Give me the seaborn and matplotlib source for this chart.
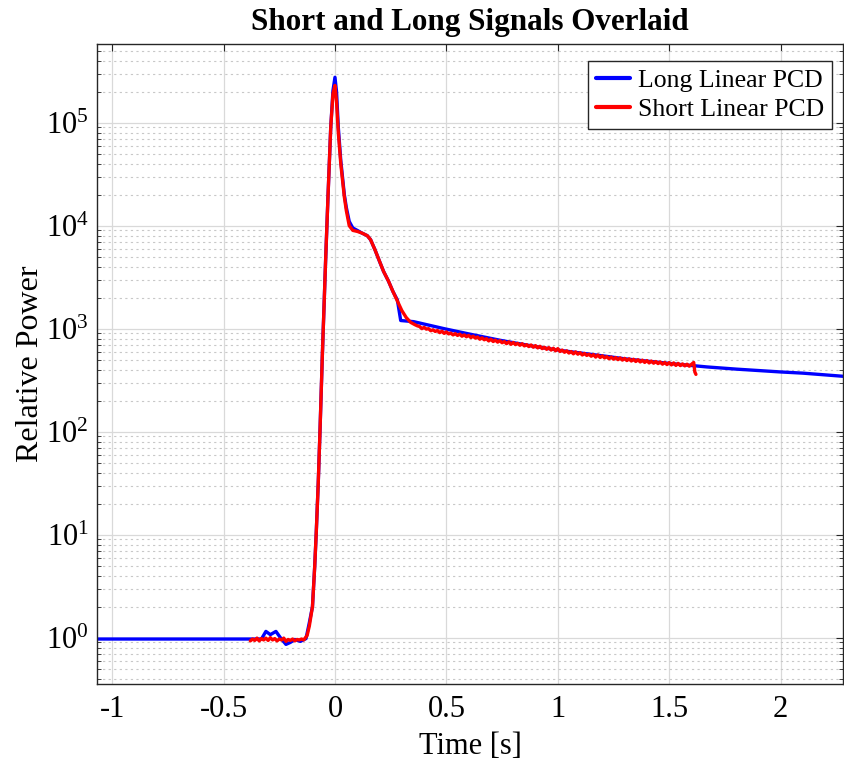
import numpy as np
import pandas as pd
import matplotlib
matplotlib.use("Agg")
import matplotlib.pyplot as plt
import seaborn as sns
from matplotlib.ticker import LogLocator, FixedLocator, NullFormatter

# ---- data ----
long_t = [-1.07, -0.33, -0.31, -0.29, -0.265, -0.245, -0.22, -0.20, -0.18, -0.155, -0.13,
          -0.115, -0.101, -0.091, -0.084, -0.075, -0.067, -0.057, -0.042, -0.031, -0.019,
          -0.009, 0.0, 0.007, 0.015, 0.026, 0.042, 0.051, 0.064, 0.08, 0.10, 0.12, 0.145,
          0.16, 0.18, 0.20, 0.218, 0.24, 0.26, 0.28, 0.295, 0.353, 0.49, 0.60, 0.743,
          0.90, 1.012, 1.20, 1.30, 1.50, 1.67, 1.80, 2.00, 2.10, 2.28]
long_p = [0.97, 0.97, 1.15, 1.07, 1.15, 1.0, 0.86, 0.90, 0.96, 0.92, 0.98,
          1.4, 2.0, 4.9, 10.5, 32, 105, 525, 4600, 20000, 90000,
          205000, 276000, 200000, 90000, 43000, 20000, 15000, 11000, 9500, 9000, 8500, 8000,
          7300, 5800, 4500, 3600, 2900, 2300, 1900, 1200, 1170, 1000, 890, 770,
          670, 615, 545, 510, 460, 425, 405, 380, 370, 345]

short_t = [-0.38, -0.37, -0.36, -0.35, -0.34, -0.33, -0.32, -0.31, -0.30, -0.29, -0.28,
           -0.27, -0.26, -0.25, -0.24, -0.23, -0.22, -0.21, -0.20, -0.19, -0.18, -0.17,
           -0.16, -0.15, -0.14, -0.125, -0.115, -0.101, -0.091, -0.084, -0.075, -0.067,
           -0.057, -0.042, -0.031, -0.019, -0.009, 0.0, 0.007, 0.015, 0.026, 0.042, 0.051,
           0.064, 0.08, 0.10, 0.12, 0.145, 0.16, 0.18, 0.20, 0.218, 0.24, 0.26, 0.28, 0.30,
           0.32, 0.34,
           0.36, 0.37, 0.38, 0.39, 0.40, 0.41, 0.42, 0.43, 0.44, 0.45, 0.46, 0.47, 0.48,
           0.49, 0.50, 0.51, 0.52, 0.53, 0.54, 0.55, 0.56, 0.57, 0.58, 0.59, 0.60, 0.61,
           0.62, 0.63, 0.64, 0.65, 0.66, 0.67, 0.68, 0.69, 0.70, 0.71, 0.72, 0.73, 0.74,
           0.75, 0.76, 0.77, 0.78, 0.79, 0.80, 0.81, 0.82, 0.83, 0.84, 0.85, 0.86, 0.87,
           0.88, 0.89, 0.90, 0.91, 0.92, 0.93, 0.94, 0.95, 0.96, 0.97, 0.98, 0.99, 1.00,
           1.01, 1.02, 1.03, 1.04, 1.05, 1.06, 1.07, 1.08, 1.09, 1.10, 1.11, 1.12, 1.13,
           1.14, 1.15, 1.16, 1.17, 1.18, 1.19, 1.20, 1.21, 1.22, 1.23, 1.24, 1.25, 1.26,
           1.27, 1.28, 1.29, 1.30, 1.31, 1.32, 1.33, 1.34, 1.35, 1.36, 1.37, 1.38, 1.39,
           1.40, 1.41, 1.42, 1.43, 1.44, 1.45, 1.46, 1.47, 1.48, 1.49, 1.50, 1.51, 1.52,
           1.53, 1.54, 1.55, 1.56, 1.57, 1.58, 1.59, 1.60, 1.61, 1.615, 1.62]
short_p = [0.93, 0.97, 0.94, 0.99, 0.93, 0.98, 0.95, 0.99, 0.94, 1.0, 0.95,
           0.98, 0.93, 0.97, 0.95, 0.99, 0.92, 0.96, 0.94, 0.97, 0.93, 0.96,
           0.95, 0.97, 0.95, 1.05, 1.3, 2.0, 4.9, 10.5, 32, 105,
           525, 4600, 20000, 90000, 190000, 230000, 160000, 80000, 40000, 19000, 14000,
           10000, 9000, 8800, 8500, 8000, 7300, 5800, 4500, 3600, 2900, 2300, 1860, 1500,
           1280, 1150,
           1090, 1065, 1050, 1000, 1030, 990, 1000, 955, 975, 940, 960, 915, 945,
           900, 930, 890, 905, 870, 895, 860, 885, 845, 870, 835, 860, 820,
           845, 810, 830, 790, 815, 780, 800, 760, 790, 750, 775, 740, 765,
           730, 750, 715, 745, 705, 735, 700, 720, 690, 715, 680, 700, 670,
           695, 660, 685, 650, 675, 640, 660, 630, 655, 620, 645, 610, 640,
           600, 620, 590, 610, 580, 600, 570, 595, 565, 585, 555, 575, 550,
           565, 540, 560, 530, 555, 525, 545, 520, 535, 510, 530, 505, 525,
           500, 520, 495, 515, 490, 510, 485, 505, 480, 500, 475, 495, 470,
           490, 465, 485, 462, 480, 458, 475, 452, 470, 448, 468, 445, 465,
           440, 460, 438, 455, 435, 452, 432, 450, 470, 380, 360]

series_names = ["Long Linear PCD", "Short Linear PCD"]
x_ticks = [-1, -0.5, 0, 0.5, 1, 1.5, 2]
x_tick_labels = ["-1", "-0.5", "0", "0.5", "1", "1.5", "2"]
y_ticks = [1, 10, 100, 1000, 10000, 100000]
y_tick_labels = [r"$10^{0}$", r"$10^{1}$", r"$10^{2}$", r"$10^{3}$", r"$10^{4}$", r"$10^{5}$"]

df = pd.concat([
    pd.DataFrame({"t": long_t, "p": long_p, "series": series_names[0]}),
    pd.DataFrame({"t": short_t, "p": short_p, "series": series_names[1]}),
], ignore_index=True)

sns.set_style("white")
plt.rcParams["font.family"] = ["Liberation Serif", "DejaVu Serif"]
plt.rcParams["mathtext.fontset"] = "custom"
plt.rcParams["mathtext.rm"] = "Liberation Serif"
plt.rcParams["mathtext.it"] = "Liberation Serif:italic"
plt.rcParams["mathtext.bf"] = "Liberation Serif:bold"
plt.rcParams["text.color"] = "black"
plt.rcParams["axes.labelcolor"] = "black"
plt.rcParams["xtick.color"] = "black"
plt.rcParams["ytick.color"] = "black"

fig = plt.figure(figsize=(8.44, 7.67), dpi=100)
ax = fig.add_axes([97 / 844, 1 - 684 / 767, (843 - 97) / 844, (684 - 44) / 767])

sns.lineplot(data=df, x="t", y="p", hue="series", hue_order=series_names,
             palette={series_names[0]: "#0000ff", series_names[1]: "#ff0000"},
             sort=False, estimator=None, linewidth=2.4, ax=ax)

ax.set_yscale("log")
ax.set_xlim(-1.068, 2.28)
ax.set_ylim(10 ** -0.45, 10 ** 5.764)

ax.xaxis.set_major_locator(FixedLocator(x_ticks))
ax.set_xticklabels(x_tick_labels)
ax.yaxis.set_major_locator(FixedLocator(y_ticks))
ax.set_yticklabels(y_tick_labels)
minor_y = [m * d for d in [0.1, 1, 10, 100, 1000, 10000, 100000] for m in range(2, 10)]
minor_y = [v for v in minor_y if 10 ** -0.45 <= v <= 10 ** 5.764]
ax.yaxis.set_minor_locator(FixedLocator(minor_y))
ax.yaxis.set_minor_formatter(NullFormatter())

ax.grid(True, which="major", color="#d9d9d9", linewidth=0.9, linestyle="-")
ax.grid(True, which="minor", axis="y", color="#c8c8c8", linewidth=0.8, linestyle=(0, (2, 3)))
ax.set_axisbelow(True)

for s in ax.spines.values():
    s.set_color("#262626")
    s.set_linewidth(1.0)

ax.tick_params(axis="both", which="major", direction="in", length=5, width=0.8,
               labelsize=22, top=True, right=True, colors="#262626", labelcolor="black")
ax.tick_params(axis="y", which="minor", direction="in", length=3, width=0.6,
               left=True, right=True, colors="#262626")
ax.tick_params(axis="x", pad=8)
ax.tick_params(axis="y", pad=6)

ax.set_xlabel("Time [s]", fontsize=22, labelpad=6, color="black")
ax.set_ylabel("Relative Power", fontsize=23, labelpad=0.5, color="black")
ax.set_title("Short and Long Signals Overlaid", fontsize=22.4, fontweight="bold",
             pad=10, color="black")

leg = ax.legend(loc="upper right", bbox_to_anchor=(0.985, 0.973), fontsize=18.5,
                frameon=True, fancybox=False, handlelength=1.35, handletextpad=0.3,
                borderpad=0.3, labelspacing=0.25, borderaxespad=0.0)
leg.get_frame().set_edgecolor("#262626")
leg.get_frame().set_linewidth(1.0)
leg.get_frame().set_alpha(1.0)
for line in leg.get_lines():
    line.set_linewidth(3.0)
for txt in leg.get_texts():
    txt.set_color("black")

fig.savefig("out.png", dpi=100)
